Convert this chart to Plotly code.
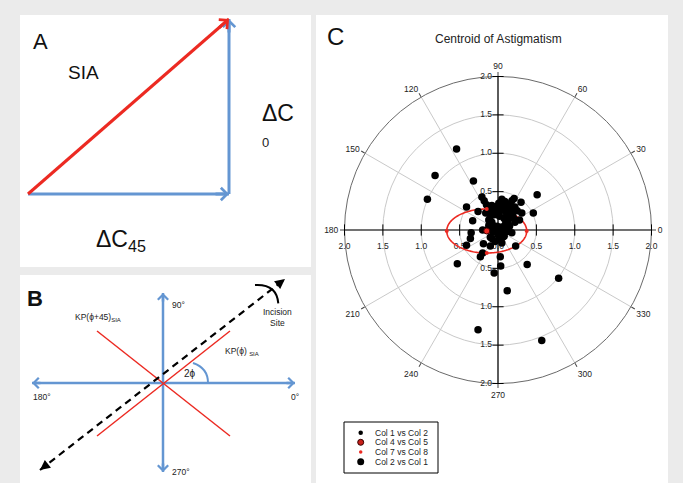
import numpy as np
import plotly.graph_objects as go

W, H = 683, 483
FONT = "Arial, Liberation Sans, sans-serif"

# ---------------- data ----------------
# Panel C: centroid of astigmatism, vector components (D)
outer_x = [-0.54, -0.82, -0.92, -0.32, 0.51, 0.46, 0.31, 0.30, 0.21, 0.09, -0.41, -0.21, -0.33, -0.26,
           -0.53, -0.41, -0.36, -0.35, -0.19, -0.20, -0.23, -0.10, -0.10, 0.03, 0.035, -0.05, 0.12, 0.38,
           0.23, 0.18, 0.06, 0.79, -0.26, 0.57, -0.20, 0.05, 0.00, -0.08]
outer_y = [1.055, 0.71, 0.40, 0.64, 0.46, 0.22, 0.22, 0.36, 0.41, 0.37, 0.30, 0.43, 0.12, 0.24,
           -0.44, -0.20, -0.11, -0.035, -0.18, -0.30, -0.35, -0.21, -0.095, -0.35, -0.47, -0.56, -0.79, -0.45,
           -0.21, -0.035, -0.095, -0.63, -1.30, -1.44, 0.00, -0.17, -0.065, -0.11]
cluster_x = [-0.18, -0.15, -0.12, -0.16, -0.10, -0.06, -0.03, 0.00, 0.04, 0.07, 0.12, 0.15, 0.18, 0.22,
             0.25, 0.14, 0.20, 0.08, -0.08, -0.12, -0.05, 0.00, 0.05, 0.10, 0.15, 0.22, 0.12, 0.07,
             -0.02, -0.07, -0.14, -0.10, 0.02, -0.04, 0.10, -0.08, 0.05, 0.28, 0.18, 0.02, -0.12, 0.09,
             -0.05, 0.03, 0.11, -0.01, 0.16, 0.06, -0.09, 0.13, -0.03, 0.08, 0.19, 0.01]
cluster_y = [0.38, 0.33, 0.28, 0.22, 0.18, 0.25, 0.30, 0.22, 0.28, 0.33, 0.30, 0.34, 0.27, 0.30,
             0.25, 0.20, 0.16, 0.15, 0.10, 0.06, 0.05, 0.02, 0.04, 0.08, 0.05, 0.10, -0.02, -0.04,
             -0.03, -0.02, 0.00, 0.03, -0.12, -0.15, 0.24, 0.32, 0.40, 0.13, 0.38, 0.18, 0.13, 0.00,
             0.20, 0.25, 0.18, 0.05, 0.23, 0.31, 0.26, 0.12, 0.00, -0.08, 0.21, 0.35]
centroid_x = [-0.147]
centroid_y = [-0.013]
ellipse_cx, ellipse_cy = -0.147, -0.013
ellipse_a, ellipse_b = 0.521, 0.287
ell_mark_x = [-0.668, 0.374, -0.147, -0.147]
ell_mark_y = [-0.013, -0.013, -0.300, 0.274]

ang_ticks = list(range(0, 360, 30))
ang_labels = [str(v) for v in ang_ticks]
rad_ticks = [0.5, 1.0, 1.5, 2.0]
rad_labels = ["0.5", "1.0", "1.5", "2.0"]
legend_names = ["Col 1 vs Col 2", "Col 4 vs Col 5", "Col 7 vs Col 8", "Col 2 vs Col 1"]

# Panel A: vector components (diagram units)
dC45 = 2.01
dC0 = 1.75

# Panel B: diagram geometry (diagram units)
axis_h_x = [-1.31, 1.32]
axis_v_y = [0.90, -0.89]
kp_phi_x, kp_phi_y = [-0.66, 0.67], [-0.53, 0.52]
kp_phi45_x, kp_phi45_y = [-0.66, 0.67], [0.52, -0.53]
incision_x, incision_y = [-1.23, 1.22], [-0.87, 1.04]

RED = "#ec2a22"
BLUE = "#6496d2"


def px(x):
    return x / W


def py(y):
    return 1 - y / H


def to_polar(x, y):
    x = np.asarray(x, float)
    y = np.asarray(y, float)
    return np.hypot(x, y), np.degrees(np.arctan2(y, x)) % 360


fig = go.Figure()

# ---------------- Panel A ----------------
fig.add_trace(go.Scatter(x=[0, dC45], y=[0, 0], mode="lines", line=dict(color=BLUE, width=3),
                         xaxis="x", yaxis="y", showlegend=False, hoverinfo="skip"))
fig.add_trace(go.Scatter(x=[dC45, dC45], y=[0, dC0], mode="lines", line=dict(color=BLUE, width=3),
                         xaxis="x", yaxis="y", showlegend=False, hoverinfo="skip"))
fig.add_trace(go.Scatter(x=[0, dC45], y=[0, dC0], mode="lines", line=dict(color=RED, width=3),
                         xaxis="x", yaxis="y", showlegend=False, hoverinfo="skip"))

annotations = []


def arrow_head(x0, y0, x1, y1, xr, yr, color, width, head, size, back=0.15):
    d = np.hypot(x1 - x0, y1 - y0)
    tx = x1 - (x1 - x0) / d * back
    ty = y1 - (y1 - y0) / d * back
    annotations.append(dict(x=x1, y=y1, ax=tx, ay=ty, xref=xr, yref=yr, axref=xr, ayref=yr,
                            text="", showarrow=True, arrowhead=head, arrowsize=size,
                            arrowwidth=width, arrowcolor=color, standoff=0))


arrow_head(0, 0, dC45, 0, "x", "y", BLUE, 3, 4, 0.8)
arrow_head(dC45, 0, dC45, dC0, "x", "y", BLUE, 3, 4, 0.8)
arrow_head(0, 0, dC45, dC0, "x", "y", RED, 3, 4, 0.8)

# ---------------- Panel B ----------------
for xs, ys, col, wd, dash in [
    (axis_h_x, [0, 0], BLUE, 2.5, None),
    ([0, 0], axis_v_y, BLUE, 2.5, None),
    (kp_phi45_x, kp_phi45_y, RED, 1.5, None),
    (kp_phi_x, kp_phi_y, RED, 1.5, None),
    (incision_x, incision_y, "black", 2.2, "7px,5px"),
]:
    fig.add_trace(go.Scatter(x=xs, y=ys, mode="lines", line=dict(color=col, width=wd, dash=dash),
                             xaxis="x2", yaxis="y2", showlegend=False, hoverinfo="skip"))

arrow_head(0, 0, axis_h_x[1], 0, "x2", "y2", BLUE, 2.5, 4, 0.8, 0.1)
arrow_head(0, 0, axis_h_x[0], 0, "x2", "y2", BLUE, 2.5, 4, 0.8, 0.1)
arrow_head(0, 0, 0, axis_v_y[0], "x2", "y2", BLUE, 2.5, 4, 0.8, 0.1)
arrow_head(0, 0, 0, axis_v_y[1], "x2", "y2", BLUE, 2.5, 4, 0.8, 0.1)
arrow_head(incision_x[0], incision_y[0], incision_x[1], incision_y[1], "x2", "y2", "black", 2, 2, 1.0, 0.08)
arrow_head(incision_x[1], incision_y[1], incision_x[0], incision_y[0], "x2", "y2", "black", 2, 2, 1.0, 0.08)

shapes = []
# panel backgrounds
for x0, y0, x1, y1 in [(20, 15, 311, 267), (20, 275, 311, 483), (316, 15, 668, 483)]:
    shapes.append(dict(type="rect", xref="paper", yref="paper", x0=px(x0), x1=px(x1), y0=py(y1), y1=py(y0),
                       fillcolor="white", line=dict(width=0), layer="below"))
# legend frame
shapes.append(dict(type="rect", xref="paper", yref="paper", x0=px(344), x1=px(438), y0=py(473), y1=py(422),
                   line=dict(color="black", width=1), fillcolor="white", layer="below"))
# 2phi angle arc and incision arc
shapes.append(dict(type="path", xref="x2", yref="y2", path="M 0.45,0 Q 0.45,0.15 0.30,0.20",
                   line=dict(color=BLUE, width=2)))
shapes.append(dict(type="path", xref="x2", yref="y2", path="M 0.92,0.98 Q 1.137,0.992 1.153,0.797",
                   line=dict(color="black", width=2)))

# ---------------- Panel C (polar) ----------------
fig.add_trace(go.Scatterpolar(r=[2, 2], theta=[180, 0], mode="lines", line=dict(color="black", width=1.2),
                              showlegend=False, hoverinfo="skip"))
fig.add_trace(go.Scatterpolar(r=[2, 2], theta=[90, 270], mode="lines", line=dict(color="black", width=1.2),
                              showlegend=False, hoverinfo="skip"))
fig.add_trace(go.Scatterpolar(r=rad_ticks * 2, theta=[90] * 4 + [270] * 4, mode="markers",
                              marker=dict(symbol="line-ew", size=8, line=dict(color="black", width=1)),
                              showlegend=False, hoverinfo="skip", cliponaxis=False))
fig.add_trace(go.Scatterpolar(r=rad_ticks * 2, theta=[0] * 4 + [180] * 4, mode="markers",
                              marker=dict(symbol="line-ns", size=8, line=dict(color="black", width=1)),
                              showlegend=False, hoverinfo="skip", cliponaxis=False))
fig.add_trace(go.Scatterpolar(r=rad_ticks * 2, theta=[90] * 4 + [270] * 4, mode="markers+text",
                              text=rad_labels * 2, textposition="middle left",
                              marker=dict(size=8, color="rgba(0,0,0,0)"),
                              textfont=dict(size=8.5, color="#222", family=FONT),
                              showlegend=False, hoverinfo="skip", cliponaxis=False))
fig.add_trace(go.Scatterpolar(r=rad_ticks[::-1] + [0.0] + rad_ticks, theta=[180] * 4 + [0] * 5,
                              mode="markers+text", text=rad_labels[::-1] + ["0.0"] + rad_labels,
                              textposition="bottom center",
                              marker=dict(size=18, color="rgba(0,0,0,0)"),
                              textfont=dict(size=8.5, color="#222", family=FONT),
                              showlegend=False, hoverinfo="skip", cliponaxis=False))
t = np.linspace(0, 2 * np.pi, 181)
er, et = to_polar(ellipse_cx + ellipse_a * np.cos(t), ellipse_cy + ellipse_b * np.sin(t))
fig.add_trace(go.Scatterpolar(r=er, theta=et, mode="lines", line=dict(color=RED, width=1.6),
                              showlegend=False, hoverinfo="skip"))
pr, pt = to_polar(outer_x + cluster_x, outer_y + cluster_y)
fig.add_trace(go.Scatterpolar(r=pr, theta=pt, mode="markers", name=legend_names[3],
                              marker=dict(color="black", size=7.5), showlegend=False))
mr, mt = to_polar(ell_mark_x, ell_mark_y)
fig.add_trace(go.Scatterpolar(r=mr, theta=mt, mode="markers", name=legend_names[2],
                              marker=dict(color=RED, size=4), showlegend=False))
cr, ct = to_polar(centroid_x, centroid_y)
fig.add_trace(go.Scatterpolar(r=cr, theta=ct, mode="markers", name=legend_names[1],
                              marker=dict(color=RED, size=6, line=dict(color="#400", width=1)),
                              showlegend=False))

# ---------------- manual legend (pixel overlay axis) ----------------
leg_y = [432.7, 442.3, 452.0, 461.7]
leg_style = [dict(color="black", size=4.5),
             dict(color="#c8201a", size=6, line=dict(color="#300", width=1)),
             dict(color=RED, size=3.5),
             dict(color="black", size=7)]
for yv, st in zip(leg_y, leg_style):
    fig.add_trace(go.Scatter(x=[360.7], y=[yv], mode="markers", marker=st, xaxis="x3", yaxis="y3",
                             showlegend=False, hoverinfo="skip", cliponaxis=False))
for name, yv in zip(legend_names, leg_y):
    annotations.append(dict(text=name, x=px(374), y=py(yv), xref="paper", yref="paper", xanchor="left",
                            yanchor="middle", showarrow=False, borderpad=0,
                            font=dict(size=8.5, color="#222", family=FONT)))

# ---------------- text ----------------
texts = [
    ("A", 40, 42, 22, "center"),
    ("SIA", 83, 72, 19, "center"),
    ("ΔC", 278, 113, 23, "center"),
    ("0", 265, 142, 13, "center"),
    ("ΔC<sub>45</sub>", 121, 240, 23, "center"),
    ("<b>B</b>", 35, 298, 22, "center"),
    ("90°", 170, 305, 8.5, "left"),
    ("180°", 42, 397, 8.5, "center"),
    ("0°", 295, 397, 8.5, "center"),
    ("270°", 170, 472, 8.5, "left"),
    ("KP(ϕ+45)<sub>SIA</sub>", 73, 317, 8.5, "left"),
    ("KP(ϕ) <sub>SIA</sub>", 223, 351, 8.5, "left"),
    ("2ϕ", 190, 373, 10, "center"),
    ("Incision<br>Site", 277, 317, 8.5, "center"),
    ("C", 335, 37, 24, "center"),
    ("Centroid of Astigmatism", 498, 39, 12, "center"),
]
for txt, x, y, s, anc in texts:
    annotations.append(dict(text=txt, x=px(x), y=py(y), xref="paper", yref="paper", xanchor=anc,
                            yanchor="middle", showarrow=False,
                            font=dict(size=s, color="#111" if s > 15 else "#222", family=FONT)))

R = 153.5
fig.update_layout(
    width=W, height=H, margin=dict(l=0, r=0, t=0, b=0),
    paper_bgcolor="#ebebeb", plot_bgcolor="rgba(0,0,0,0)",
    showlegend=False,
    font=dict(family=FONT),
    xaxis=dict(domain=[px(20), px(311)], range=[-0.08, 2.83], visible=False, fixedrange=True, anchor="y"),
    yaxis=dict(domain=[py(267), py(15)], range=[-0.73, 1.79], visible=False, fixedrange=True, anchor="x"),
    xaxis2=dict(domain=[px(20), px(311)], range=[-1.43, 1.48], visible=False, fixedrange=True, anchor="y2"),
    yaxis2=dict(domain=[py(483), py(275)], range=[-1.0, 1.08], visible=False, fixedrange=True, anchor="x2"),
    xaxis3=dict(domain=[0, 1], range=[0, W], visible=False, fixedrange=True, anchor="y3"),
    yaxis3=dict(domain=[0, 1], range=[H, 0], visible=False, fixedrange=True, anchor="x3"),
    polar=dict(
        domain=dict(x=[px(498 - R), px(498 + R)], y=[py(230 + R), py(230 - R)]),
        bgcolor="white",
        angularaxis=dict(rotation=0, direction="counterclockwise", tickmode="array",
                         tickvals=ang_ticks, ticktext=ang_labels,
                         showline=True, linecolor="#6a6a6a", linewidth=1,
                         showgrid=True, gridcolor="#c9c9c9", gridwidth=1,
                         ticks="outside", ticklen=4, tickcolor="#444",
                         tickfont=dict(size=8.5, color="#222", family=FONT), layer="below traces"),
        radialaxis=dict(range=[0, 2], tickmode="array", tickvals=rad_ticks, showticklabels=False,
                        ticks="", showline=False, gridcolor="#c9c9c9", gridwidth=1, layer="below traces"),
    ),
    shapes=shapes,
    annotations=annotations,
)

fig.write_html("out.html", config={"displayModeBar": False},
               post_script="document.body.style.margin='0px';")
